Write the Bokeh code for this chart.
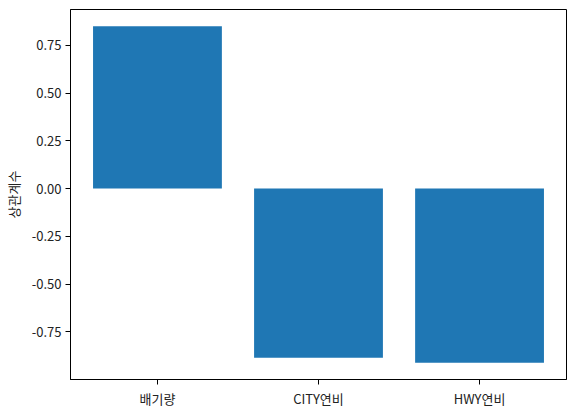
from bokeh.plotting import figure
from bokeh.models import FactorRange, Range1d, FixedTicker, ColumnDataSource
from bokeh.embed import file_html
from bokeh.resources import INLINE

categories = ["배기량", "CITY연비", "HWY연비"]
corr_values = [0.849, -0.885, -0.911]
y_ticks = [-0.75, -0.5, -0.25, 0.0, 0.25, 0.5, 0.75]
y_tick_labels = ["-0.75", "-0.50", "-0.25", "0.00", "0.25", "0.50", "0.75"]

FONT = "Noto Sans CJK KR"

source = ColumnDataSource(data=dict(cat=categories, val=corr_values))

p = figure(
    x_range=FactorRange(*categories, range_padding=0.08 / 3),
    y_range=Range1d(-0.999, 0.937),
    frame_width=496, frame_height=370,
    min_border_left=10, min_border_top=9, min_border_right=2, min_border_bottom=5,
    output_backend="svg", toolbar_location=None,
)
p.vbar(x="cat", top="val", bottom=0, width=0.8, source=source,
       fill_color="#1f77b4", line_color=None)

p.grid.visible = False
p.outline_line_color = "black"
p.outline_line_width = 1

for ax in (p.xaxis, p.yaxis):
    ax.major_tick_out = 5
    ax.major_tick_in = 0
    ax.minor_tick_line_color = None
    ax.major_label_text_font = FONT
    ax.major_label_text_font_size = "13px"
    ax.major_label_text_color = "#222222"
    ax.axis_line_color = "black"
    ax.major_tick_line_color = "black"
    ax.major_label_standoff = 4

p.yaxis.ticker = FixedTicker(ticks=y_ticks)
p.yaxis.major_label_overrides = {t: l for t, l in zip(y_ticks, y_tick_labels)}
p.yaxis.axis_label = "상관계수"
p.yaxis.axis_label_text_font = FONT
p.yaxis.axis_label_text_font_size = "13px"
p.yaxis.axis_label_text_font_style = "normal"
p.yaxis.axis_label_text_color = "#222222"
p.yaxis.axis_label_standoff = 6

open("out.html", "w").write(file_html(p, INLINE))
